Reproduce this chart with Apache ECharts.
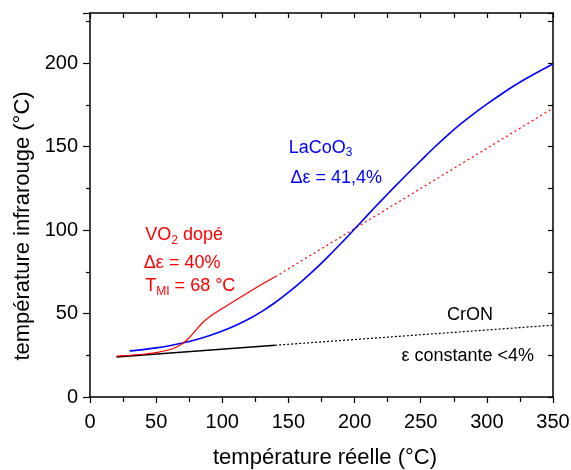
<!DOCTYPE html>
<html><head><meta charset="utf-8">
<script src="https://cdn.jsdelivr.net/npm/echarts@6/dist/echarts.min.js"></script>
<style>html,body{margin:0;padding:0;background:#fff}#c{width:571px;height:470px}</style>
</head><body><div id="c"></div>
<script>
// ---- data ----
const xTickValues = [0, 50, 100, 150, 200, 250, 300, 350];
const yTickValues = [0, 50, 100, 150, 200];
const xTitle = 'température réelle (°C)';
const yTitle = 'température infrarouge (°C)';

const lacoX = [30, 40, 50, 60, 70, 80, 90, 100, 110, 120, 130, 140, 150, 160, 170, 180, 190, 200, 210, 220, 230, 240, 250, 260, 270, 280, 290, 300, 310, 320, 330, 340, 350];
const lacoY = [27.6, 28.4, 29.4, 30.7, 32.3, 34.3, 36.7, 39.5, 42.8, 46.7, 51.3, 56.6, 62.6, 69.2, 76.4, 84.1, 92.2, 100.6, 109.1, 117.5, 125.7, 133.7, 141.5, 149.3, 156.6, 163.4, 169.6, 175.4, 180.9, 186.1, 190.9, 195.3, 199.5];

const vo2X = [20, 30, 40, 50, 60, 65, 70, 75, 80, 85, 90, 95, 100, 110, 120, 130, 140];
const vo2Y = [24.5, 25, 25.6, 26.6, 28.3, 29.8, 32, 35.5, 40, 44.5, 47.8, 50.5, 53, 58, 62.8, 67.5, 72];
const vo2ExtX = [140, 350];
const vo2ExtY = [72, 173];

const cronX = [20, 140];
const cronY = [24, 31];
const cronExtX = [140, 350];
const cronExtY = [31, 43];

function pairs(xs, ys) { return xs.map((x, i) => [x, ys[i]]); }

const chart = echarts.init(document.getElementById('c'), null, {renderer: 'canvas'});
const FONT = 'Liberation Sans, Arial, sans-serif';

const baseX = {
  type: 'value', min: 0, max: 350, interval: 50,
  splitLine: {show: false},
  axisLine: {show: true, onZero: false, lineStyle: {color: '#000', width: 1.5}}
};
const baseY = {
  type: 'value', min: 0, max: 230, interval: 50,
  splitLine: {show: false},
  axisLine: {show: true, onZero: false, lineStyle: {color: '#000', width: 1.5}}
};

chart.setOption({
  animation: false,
  backgroundColor: '#fff',
  grid: {left: 90, right: 18, top: 13, bottom: 73, containLabel: false, outerBoundsMode: 'none'},
  xAxis: [
    Object.assign({}, baseX, {
      position: 'bottom',
      name: xTitle, nameLocation: 'middle', nameGap: 50,
      nameTextStyle: {fontFamily: FONT, fontSize: 22, color: '#000', padding: [0, 0, 0, 7]},
      axisTick: {show: true, inside: false, length: 6, lineStyle: {color: '#000', width: 1.2}},
      minorTick: {show: true, splitNumber: 2, length: 5, lineStyle: {color: '#000', width: 1.2}},
      axisLabel: {show: true, margin: 15, fontFamily: FONT, fontSize: 20, color: '#000',
        formatter: v => xTickValues.includes(v) ? String(v) : ''}
    }),
    Object.assign({}, baseX, {
      position: 'top',
      axisTick: {show: true, inside: true, length: 5, lineStyle: {color: '#000', width: 1.2}},
      minorTick: {show: true, splitNumber: 2, length: 5, lineStyle: {color: '#000', width: 1.2}},
      axisLabel: {show: false}
    })
  ],
  yAxis: [
    Object.assign({}, baseY, {
      position: 'left',
      name: yTitle, nameLocation: 'middle', nameGap: 48, nameRotate: 90,
      nameTextStyle: {fontFamily: FONT, fontSize: 22, color: '#000', padding: [0, 42, 0, 0]},
      axisTick: {show: true, inside: false, length: 7, lineStyle: {color: '#000', width: 1.2}},
      minorTick: {show: true, splitNumber: 2, length: 4, lineStyle: {color: '#000', width: 1.2}},
      axisLabel: {show: true, margin: 12, fontFamily: FONT, fontSize: 20, color: '#000',
        formatter: v => yTickValues.includes(v) ? String(v) : ''}
    }),
    Object.assign({}, baseY, {
      position: 'right',
      axisTick: {show: true, inside: true, length: 5, lineStyle: {color: '#000', width: 1.2}},
      minorTick: {show: true, splitNumber: 2, length: 5, lineStyle: {color: '#000', width: 1.2}},
      axisLabel: {show: false}
    })
  ],
  series: [
    {name: 'CrON', type: 'line', xAxisIndex: 0, yAxisIndex: 0, showSymbol: false,
      data: pairs(cronX, cronY), lineStyle: {color: '#000', width: 1.5}},
    {name: 'CrON ext', type: 'line', xAxisIndex: 0, yAxisIndex: 0, showSymbol: false,
      data: pairs(cronExtX, cronExtY), lineStyle: {color: '#000', width: 1.2, type: [2, 2]}},
    {name: 'VO2 ext', type: 'line', xAxisIndex: 0, yAxisIndex: 0, showSymbol: false,
      data: pairs(vo2ExtX, vo2ExtY), lineStyle: {color: '#ff0000', width: 1.2, type: [2, 3]}},
    {name: 'LaCoO3', type: 'line', xAxisIndex: 0, yAxisIndex: 0, showSymbol: false, smooth: 0.3,
      data: pairs(lacoX, lacoY), lineStyle: {color: '#0000ff', width: 1.6}},
    {name: 'VO2', type: 'line', xAxisIndex: 0, yAxisIndex: 0, showSymbol: false, smooth: 0.3,
      data: pairs(vo2X, vo2Y), lineStyle: {color: '#ff0000', width: 1.2}}
  ]
});

// ---- annotations, anchored in data coordinates ----
const notes = [
  {x: 150.3, y: 149.4, text: 'LaCoO{s|3}', color: '#0000ff'},
  {x: 151.5, y: 131.4, text: 'Δε = 41,4%', color: '#0000ff'},
  {x: 41.8, y: 97.2, text: 'VO{s|2} dopé', color: '#ff0000'},
  {x: 40.7, y: 80.4, text: 'Δε = 40%', color: '#ff0000'},
  {x: 41.8, y: 66.2, text: 'T{s|MI} = 68 °C', color: '#ff0000'},
  {x: 269.9, y: 49, text: 'CrON', color: '#000'},
  {x: 235.4, y: 24.8, text: 'ε constante <4%', color: '#000'}
];
const graphics = notes.map(n => {
  const p = chart.convertToPixel({xAxisIndex: 0, yAxisIndex: 0}, [n.x, n.y]);
  return {
    type: 'text', x: p[0], y: p[1], silent: true,
    style: {
      text: n.text, fill: n.color, font: '18px ' + FONT,
      verticalAlign: 'middle', align: 'left',
      rich: {s: {fontSize: 12, fontFamily: FONT, fill: n.color, color: n.color, padding: [11, 0, 0, 0]}}
    }
  };
});
chart.setOption({graphic: graphics});
</script>
</body></html>
